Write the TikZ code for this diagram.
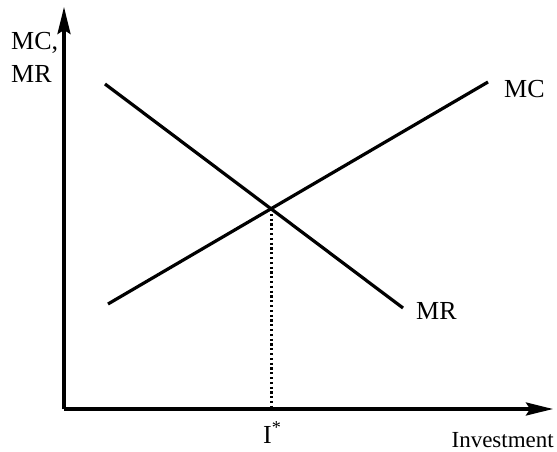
\documentclass[tikz,border=0pt]{standalone}
\usepackage{fontspec}
\setmainfont{Liberation Serif}
\usetikzlibrary{arrows.meta}
\begin{document}
\begin{tikzpicture}[x=1pt,y=-1pt,
  axis/.style={line width=3.4pt,-{Stealth[length=27pt,width=13pt,inset=4pt]}},
  curve/.style={line width=3.2pt},
  guide/.style={line width=3pt,dash pattern=on 2.2pt off 2.6pt},
  lbl/.style={inner sep=0pt,font=\fontsize{26}{30}\selectfont}]
\useasboundingbox (0,0) rectangle (557,452);
\coordinate (O) at (64,409);
\coordinate (ytip) at (64,7);
\coordinate (xtip) at (553,409);
\coordinate (mc1) at (108,304);
\coordinate (mc2) at (488,82);
\coordinate (mr1) at (105,84);
\coordinate (mr2) at (403,308);
\coordinate (E) at (271,209);
\coordinate (F) at (271,409);
\draw[axis] (O) -- (ytip);
\draw[axis] (O) -- (xtip);
\draw[curve] (mc1) -- (mc2);
\draw[curve] (mr1) -- (mr2);
\draw[guide] (E) -- (F);
\node[lbl,anchor=base west] (ylab1) at (11,50) {MC,};
\node[lbl,anchor=base west] (ylab2) at (11,82) {MR};
\node[lbl,anchor=base west] (mclab) at (504,97) {MC};
\node[lbl,anchor=base west] (mrlab) at (416,319) {MR};
\node[lbl,anchor=base west] (istar) at (263,443) {I\textsuperscript{*}};
\node[lbl,anchor=base east,font=\fontsize{23}{27}\selectfont] (xlab) at (554,447) {Investment};
\end{tikzpicture}
\end{document}
